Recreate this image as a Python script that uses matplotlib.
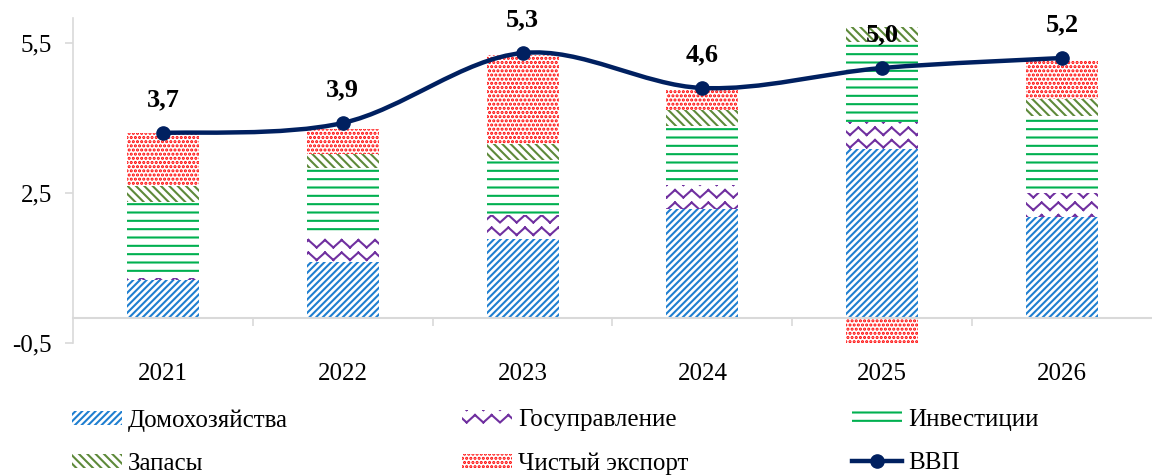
import warnings

import numpy as np
import matplotlib
matplotlib.use("Agg")
import matplotlib.pyplot as plt
from matplotlib import hatch as mhatch
from matplotlib.lines import Line2D
from matplotlib.patches import PathPatch
from matplotlib.path import Path
from matplotlib.ticker import FuncFormatter

# contributions to GDP growth, p.p.
years = ["2021", "2022", "2023", "2024", "2025", "2026"]
households = [0.76, 1.13, 1.59, 2.19, 3.39, 2.03]
government = [0.05, 0.50, 0.47, 0.47, 0.54, 0.48]
investment = [1.52, 1.38, 1.11, 1.18, 1.60, 1.53]
inventories = [0.31, 0.28, 0.32, 0.33, 0.30, 0.35]
net_exports = [1.07, 0.50, 1.77, 0.42, -0.51, 0.77]
gdp = [3.7, 3.9, 5.3, 4.6, 5.0, 5.2]

names = ["Домохозяйства", "Госуправление", "Инвестиции", "Запасы", "Чистый экспорт"]
gdp_name = "ВВП"
yticks = [-0.5, 2.5, 5.5]

NAVY = "#002060"
GRID = "#d9d9d9"


class WaveHatch(mhatch.HatchPatternBase):
    """zig-zag 'scales' used for the government bars, hatch char 'w'.
    Drawn as separate 2-point segments so agg's hatch fill stays empty."""

    def __init__(self, hatch, density):
        self.num_rows = int(hatch.count("w") * density * 4 / 3)
        self.teeth = 6
        self.num_vertices = self.num_rows * self.teeth * 4

    def set_vertices_and_codes(self, vertices, codes):
        h = 1.0 / self.num_rows
        w = 1.0 / self.teeth
        k = 0
        for i in range(self.num_rows):
            y0 = i * h + 0.2 * h
            y1 = y0 + 0.6 * h
            for j in range(self.teeth):
                xa = j * w
                for (px, py), (qx, qy) in (((xa, y0), (xa + w / 2, y1)),
                                           ((xa + w / 2, y1), (xa + w, y0))):
                    vertices[k] = (px, py)
                    vertices[k + 1] = (qx, qy)
                    codes[k] = Path.MOVETO
                    codes[k + 1] = Path.LINETO
                    k += 2


mhatch._hatch_types.append(WaveHatch)
warnings.filterwarnings("ignore", message=".*hatch must consist.*")


def smooth_path(xs, ys, t=1 / 6):
    # excel-like smoothed line: catmull-rom turned into cubic beziers
    pts = np.column_stack([xs, ys]).astype(float)
    verts, codes = [pts[0]], [Path.MOVETO]
    for i in range(len(pts) - 1):
        p0 = pts[max(i - 1, 0)]
        p1, p2 = pts[i], pts[i + 1]
        p3 = pts[min(i + 2, len(pts) - 1)]
        verts += [p1 + (p2 - p0) * t, p2 - (p3 - p1) * t, p2]
        codes += [Path.CURVE4] * 3
    return Path(verts, codes)


plt.rcParams.update({
    "font.family": ["Liberation Serif", "DejaVu Serif"],
    "font.size": 18,
    "hatch.linewidth": 1.5,
})

styles = [("#1f7fd0", "/////"), ("#7030a0", "w"), ("#00b050", "--"),
          ("#5e8a3a", "\\\\\\\\"), ("#ff0000", "....")]

fig = plt.figure(figsize=(11.52, 4.75), dpi=100)
ax = fig.add_axes([73 / 1152, 1 - 343 / 475, 1 - 73 / 1152, 325 / 475])

x = np.arange(len(years))
pos = np.zeros(len(x))
neg = np.zeros(len(x))
handles = []
for vals, name, (col, hatch) in zip(
        [households, government, investment, inventories, net_exports], names, styles):
    v = np.array(vals)
    bottom = np.where(v >= 0, pos, neg)
    bars = ax.bar(x, v, 0.4, bottom=bottom, facecolor="white", edgecolor=col,
                  hatch=hatch, linewidth=0, label=name, zorder=2)
    handles.append(bars)
    pos += np.clip(v, 0, None)
    neg += np.clip(v, None, 0)

ax.add_patch(PathPatch(smooth_path(x, gdp), fill=False, edgecolor=NAVY, lw=3.2,
                       capstyle="round", zorder=3))
ax.plot(x, gdp, "o", color=NAVY, ms=9.5, zorder=4)
for i, v in enumerate(gdp):
    ax.annotate(f"{v:.1f}".replace(".", ","), (i, v), xytext=(0, 24),
                textcoords="offset points", ha="center", va="center",
                fontsize=19, fontweight="bold", zorder=5)

ax.set_xlim(-0.5, len(years) - 0.5)
ax.set_ylim(-0.5, 6.0)
ax.set_yticks(yticks)
ax.yaxis.set_major_formatter(FuncFormatter(lambda v, _: f"{v:.1f}".replace(".", ",")))
ax.tick_params(axis="y", direction="out", length=6, width=1.2, color=GRID, pad=9,
               labelsize=18)

for s in ("top", "right"):
    ax.spines[s].set_visible(False)
ax.spines["left"].set_color(GRID)
ax.spines["left"].set_linewidth(1.2)
ax.spines["bottom"].set_position(("data", 0))
ax.spines["bottom"].set_color(GRID)
ax.spines["bottom"].set_linewidth(1.5)
ax.set_xticks(x[:-1] + 0.5)
ax.tick_params(axis="x", direction="out", length=6, width=1.2, color=GRID,
               labelbottom=False)
for i, y in enumerate(years):
    ax.annotate(y, (i, 0), xycoords=("data", "axes fraction"), xytext=(0, -22),
                textcoords="offset points", ha="center", va="center", fontsize=18)

gdp_handle = Line2D([], [], color=NAVY, lw=3.2, marker="o", ms=9.5)
columns = [([handles[0], handles[3]], [names[0], names[3]]),
           ([handles[1], handles[4]], [names[1], names[4]]),
           ([handles[2], gdp_handle], [names[2], gdp_name])]
for (hs, labs), x0 in zip(columns, [72, 462, 852]):
    fig.legend(hs, labs, loc="upper left", bbox_to_anchor=(x0 / 1152, 1 - 409 / 475),
               frameon=False, fontsize=18, handlelength=2.0, handleheight=0.5,
               handletextpad=0.25, labelspacing=0.85, borderpad=0, borderaxespad=0)

fig.savefig("out.png", dpi=100)
